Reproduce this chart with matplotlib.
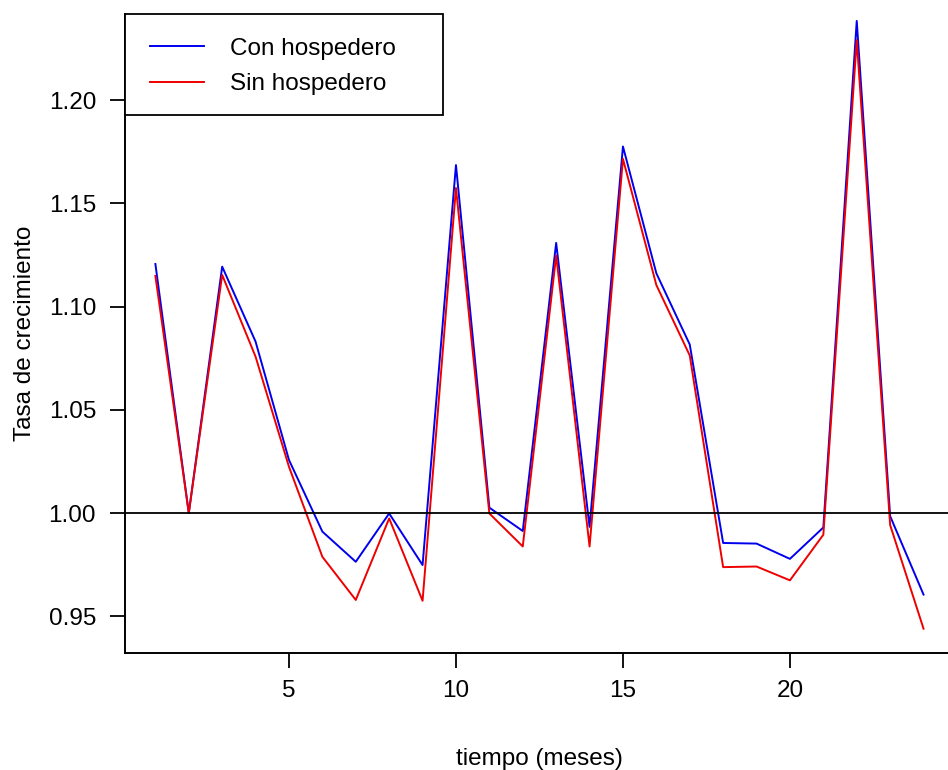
import matplotlib.pyplot as plt
from matplotlib.patches import Rectangle

plt.rcParams['font.family'] = ['Liberation Sans', 'DejaVu Sans']

# meses 1..24
meses = list(range(1, 25))

# tasa de crecimiento con hospedero
con_hosp = [1.1206, 1.0000, 1.1193, 1.0830, 1.0257, 0.9910, 0.9764, 0.9998,
            0.9748, 1.1685, 1.0026, 0.9913, 1.1308, 0.9933, 1.1775, 1.1161,
            1.0816, 0.9855, 0.9852, 0.9778, 0.9930, 1.2383, 0.9985, 0.9605]

# tasa de crecimiento sin hospedero
sin_hosp = [1.1148, 1.0000, 1.1153, 1.0757, 1.0224, 0.9788, 0.9579, 0.9974,
            0.9575, 1.1574, 0.9998, 0.9838, 1.1247, 0.9838, 1.1715, 1.1104,
            1.0763, 0.9738, 0.9741, 0.9674, 0.9895, 1.2290, 0.9942, 0.9440]

x_ticks = [5, 10, 15, 20]
y_ticks = [0.95, 1.00, 1.05, 1.10, 1.15, 1.20]
labels = ['Con hospedero', 'Sin hospedero']

fs = 17.5

fig = plt.figure(figsize=(9.48, 7.70), dpi=100)
ax = fig.add_axes([0.1315, 0.1519, 0.8751, 0.8299])

ax.plot(meses, con_hosp, color='#0000ee', lw=1.4, label=labels[0])
ax.plot(meses, sin_hosp, color='#ee0000', lw=1.4, label=labels[1])
ax.axhline(1, color='black', lw=1.3)

ax.set_xlim(0.08, 24.92)
ax.set_ylim(0.9322, 1.24165)

ax.set_xticks(x_ticks)
ax.set_yticks(y_ticks)
ax.set_yticklabels(['%.2f' % v for v in y_ticks])
ax.tick_params(axis='both', labelsize=fs, length=10.6, width=1.3, direction='out')
ax.tick_params(axis='x', pad=9)
ax.tick_params(axis='y', pad=10)

ax.spines['top'].set_visible(False)
ax.spines['right'].set_visible(False)
ax.spines['left'].set_linewidth(1.4)
ax.spines['bottom'].set_linewidth(1.4)

ax.set_xlabel('tiempo (meses)', fontsize=fs)
ax.set_ylabel('Tasa de crecimiento', fontsize=fs)
ax.xaxis.set_label_coords(0.5, -0.148)
ax.yaxis.set_label_coords(-0.107, 0.5)

# caja de leyenda estilo R
box = Rectangle((0, 0.8419), 0.3837, 1 - 0.8419, transform=ax.transAxes,
                facecolor='white', edgecolor='black', lw=1.3, zorder=4.5, clip_on=False)
ax.add_patch(box)
ax.legend(loc='upper left', bbox_to_anchor=(0, 1.0025), borderaxespad=0,
          frameon=False, fontsize=fs, handlelength=2.2, handletextpad=1.07,
          borderpad=1.05, labelspacing=0.55)

fig.savefig('out.png', dpi=100)
